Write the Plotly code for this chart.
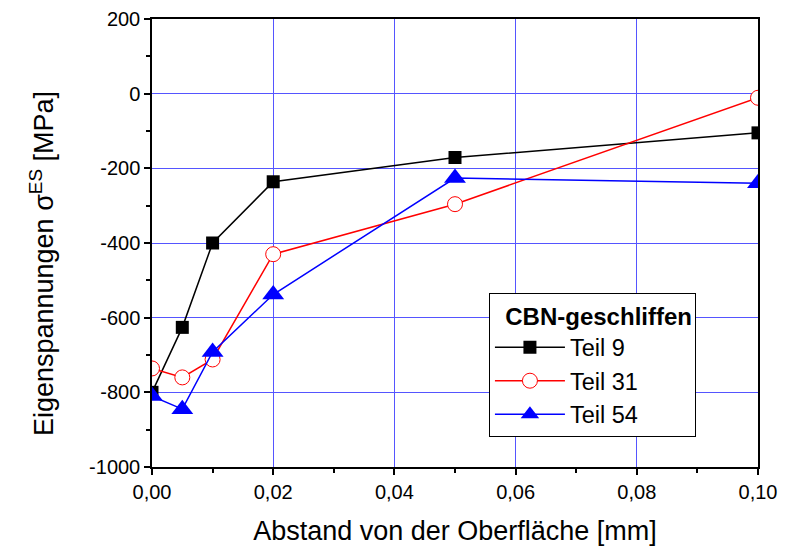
import plotly.graph_objects as go

x = [0.0, 0.005, 0.01, 0.02, 0.05, 0.10]
teil9 = [-800, -626, -400, -236, -171, -105]
teil31 = [-736, -760, -712, -430, -296, -11]
teil54 = [-810, -845, -692, -538, -226, -240]
names = ["Teil 9", "Teil 31", "Teil 54"]
y_ticks = [-1000, -800, -600, -400, -200, 0, 200]
y_ticktext = ["-1000", "-800", "-600", "-400", "-200", "0", "200"]

fig = go.Figure()
fig.add_trace(go.Scatter(x=x, y=teil9, name=names[0], mode="lines+markers",
                         line=dict(color="black", width=1.5),
                         marker=dict(symbol="square", size=13, color="black")))
fig.add_trace(go.Scatter(x=x, y=teil31, name=names[1], mode="lines+markers",
                         line=dict(color="#ff0000", width=1.5),
                         marker=dict(symbol="circle", size=15, color="white",
                                     line=dict(color="#ff0000", width=1))))
fig.add_trace(go.Scatter(x=x, y=teil54, name=names[2], mode="lines+markers",
                         line=dict(color="#0000ff", width=1.5),
                         marker=dict(symbol="triangle-up", size=19, color="#0000ff")))

font = "Liberation Sans, Arial, sans-serif"
fig.update_layout(
    width=788, height=538,
    margin=dict(l=144, r=38, t=11, b=79),
    paper_bgcolor="white", plot_bgcolor="white",
    separators=",.",
    font=dict(family=font, color="black", size=20),
    showlegend=True,
    legend=dict(
        x=0.556, y=0.388, xanchor="left", yanchor="top",
        bordercolor="black", borderwidth=1, bgcolor="white",
        font=dict(size=23.5, family=font),
        title=dict(text="&nbsp;&nbsp;<b>CBN-geschliffen</b>", font=dict(size=24, family=font)),
        tracegroupgap=0, itemwidth=70,
    ),
    xaxis=dict(
        range=[0, 0.1], tickmode="linear", tick0=0, dtick=0.02, tickformat=".2f",
        showgrid=True, gridcolor="#5555ff", gridwidth=1,
        showline=True, linecolor="black", linewidth=1.5, mirror=True,
        ticks="outside", ticklen=6, tickwidth=1.5, tickcolor="black",
        minor=dict(dtick=0.01, ticks="outside", ticklen=4, tickwidth=1.5, tickcolor="black", showgrid=False),
        zeroline=False, automargin=False, ticklabeloverflow="allow",
        title=dict(text="Abstand von der Oberfläche [mm]", font=dict(size=27), standoff=20),
        tickfont=dict(size=20),
    ),
    yaxis=dict(
        range=[-1000, 200], tickmode="array", tickvals=y_ticks, ticktext=y_ticktext,
        showgrid=True, gridcolor="#5555ff", gridwidth=1,
        showline=True, linecolor="black", linewidth=1.5, mirror=True,
        ticks="outside", ticklen=6, tickwidth=1.5, tickcolor="black",
        minor=dict(tickmode="linear", tick0=-1000, dtick=100, ticks="outside", ticklen=4,
                   tickwidth=1.5, tickcolor="black", showgrid=False),
        zeroline=False, automargin=False, ticklabeloverflow="allow",
        tickfont=dict(size=20),
    ),
    annotations=[dict(
        text="Eigenspannungen σ<sup>ES</sup> [MPa]", textangle=-90,
        xref="paper", yref="paper", x=-0.1815, y=0.453,
        xanchor="center", yanchor="middle", showarrow=False,
        font=dict(size=27, family=font, color="black"),
    )],
)

fig.write_html("out.html")
